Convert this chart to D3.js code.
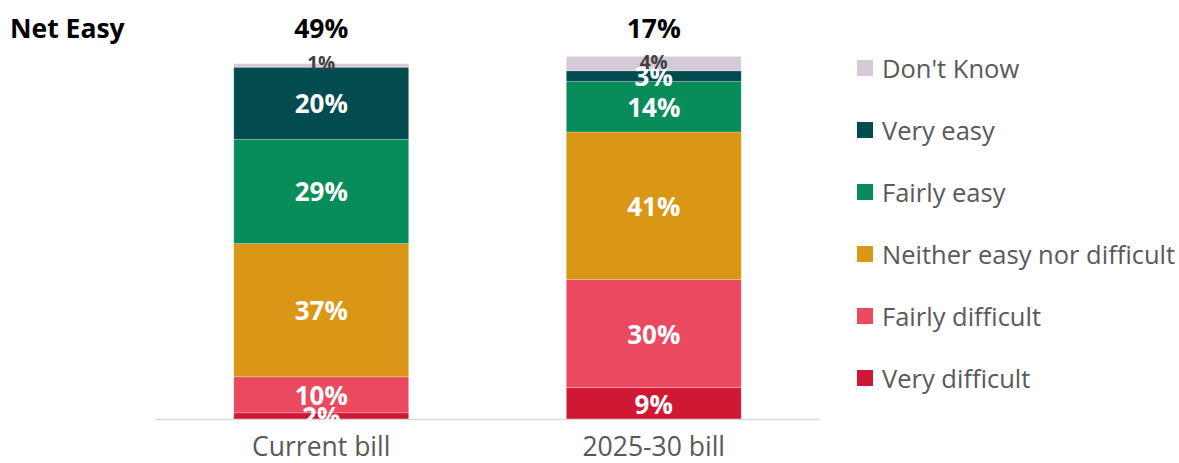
<!DOCTYPE html>
<html>
<head>
<meta charset="utf-8">
<script src="https://cdn.jsdelivr.net/npm/d3@7"></script>
<style>
  body { margin: 0; background: #fff; }
  svg { display: block; font-family: "Open Sans", Lato, sans-serif; }
</style>
</head>
<body>
<svg id="chart" width="1179" height="463"></svg>
<script>
// --- data ---
const categories = ['Current bill', '2025-30 bill'];
const seriesNames = ['Very difficult', 'Fairly difficult', 'Neither easy nor difficult', 'Fairly easy', 'Very easy', "Don't Know"];
const seriesColors = ['#d01733', '#ea4960', '#da9715', '#088c5a', '#024b4e', '#d6c9d8'];
const values = {
    'Current bill': [2, 10, 37, 29, 20, 1],
    '2025-30 bill': [9, 30, 41, 14, 3, 4]
};
const netEasy = [49, 17];

const svg = d3.select('#chart');

const x = d3.scaleBand()
    .domain(categories)
    .range([155, 820])
    .paddingInner(0.474)
    .paddingOuter(0.237);

const y = d3.scaleLinear().domain([0, 100]).range([420, 60]);

// labels are clipped to the plot area, like the original
svg.append('defs').append('clipPath')
    .attr('id', 'plot-clip')
    .append('rect')
    .attr('x', 0).attr('y', 0)
    .attr('width', 840).attr('height', y(0) + 1);

// build stacked segments
const rows = categories.map(c => {
    const r = { cat: c };
    seriesNames.forEach((s, i) => r[s] = values[c][i]);
    return r;
});
const stacked = d3.stack().keys(seriesNames)(rows);

const layers = svg.append('g')
    .selectAll('g')
    .data(stacked)
    .join('g')
    .attr('fill', (d, i) => seriesColors[i]);

layers.selectAll('rect')
    .data(d => d)
    .join('rect')
    .attr('x', d => x(d.data.cat))
    .attr('width', x.bandwidth())
    .attr('y', d => y(d[1]))
    .attr('height', d => y(d[0]) - y(d[1]))
    .attr('stroke', 'rgba(255,255,255,0.35)')
    .attr('stroke-width', 0.7);

// axis line
svg.append('line')
    .attr('x1', 155).attr('x2', 820)
    .attr('y1', 419.5).attr('y2', 419.5)
    .attr('stroke', '#d9d9d9')
    .attr('stroke-width', 1.5);

// segment labels
const labelLayer = svg.append('g').attr('clip-path', 'url(#plot-clip)');
stacked.forEach((layer, i) => {
    const dark = seriesNames[i] === "Don't Know";
    labelLayer.append('g').selectAll('text')
        .data(layer)
        .join('text')
        .attr('x', d => x(d.data.cat) + x.bandwidth() / 2)
        .attr('y', d => (y(d[0]) + y(d[1])) / 2 - (dark ? 2 : 0))
        .attr('text-anchor', 'middle')
        .attr('dominant-baseline', 'central')
        .attr('font-weight', 'bold')
        .attr('font-size', dark ? 19 : 26)
        .attr('fill', dark ? '#404040' : '#fff')
        .text(d => (d[1] - d[0]) + '%');
});

// net easy
svg.append('text')
    .attr('x', 10).attr('y', 28)
    .attr('dominant-baseline', 'central')
    .attr('font-weight', 'bold')
    .attr('font-size', 26.5)
    .attr('fill', '#000')
    .text('Net Easy');

svg.append('g').selectAll('text')
    .data(categories)
    .join('text')
    .attr('x', d => x(d) + x.bandwidth() / 2)
    .attr('y', 28)
    .attr('text-anchor', 'middle')
    .attr('dominant-baseline', 'central')
    .attr('font-weight', 'bold')
    .attr('font-size', 26.5)
    .attr('fill', '#000')
    .text((d, i) => netEasy[i] + '%');

// category labels
svg.append('g').selectAll('text')
    .data(categories)
    .join('text')
    .attr('x', d => x(d) + x.bandwidth() / 2)
    .attr('y', 446)
    .attr('text-anchor', 'middle')
    .attr('dominant-baseline', 'central')
    .attr('font-size', 26.5)
    .attr('fill', '#595959')
    .text(d => d);

// legend (top item is Don't Know)
const legendItems = seriesNames.map((s, i) => ({ name: s, color: seriesColors[i] })).reverse();
const legend = svg.append('g')
    .selectAll('g')
    .data(legendItems)
    .join('g')
    .attr('transform', (d, i) => `translate(857,${68 + i * 62})`);

legend.append('rect')
    .attr('x', 0).attr('y', -8)
    .attr('width', 16).attr('height', 16)
    .attr('fill', d => d.color);

legend.append('text')
    .attr('x', 25).attr('y', 0)
    .attr('dominant-baseline', 'central')
    .attr('font-size', 25.5)
    .attr('fill', '#595959')
    .text(d => d.name);
</script>
</body>
</html>
